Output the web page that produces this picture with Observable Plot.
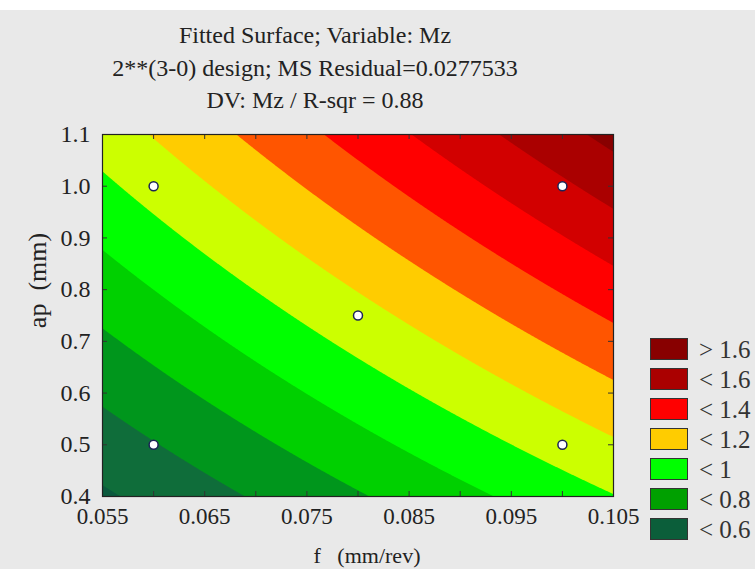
<!DOCTYPE html>
<html><head><meta charset="utf-8">
<script src="https://cdn.jsdelivr.net/npm/d3@7"></script>
<script src="https://cdn.jsdelivr.net/npm/@observablehq/plot@0.6"></script>
<style>
html,body{margin:0;padding:0;background:#e9e9e9;}
#wrap{position:relative;width:755px;height:569px;background:#e9e9e9;overflow:hidden;font-family:"Liberation Serif","Times New Roman",serif;}
#topstrip{position:absolute;left:0;top:0;width:755px;height:10px;background:#fff;}
#chart{position:absolute;left:0;top:0;}
#legend{position:absolute;left:650px;top:334px;}
.row{display:flex;align-items:center;height:30px;}
.sw{width:38px;height:22px;border:1px solid #333;box-sizing:border-box;flex:none;}
.lb{margin-left:11px;font-size:25px;line-height:25px;color:#333;white-space:pre;}
</style></head><body>
<div id="wrap"><div id="topstrip"></div><div id="chart"></div><div id="legend"></div></div>
<script>
// Fitted surface values of Mz at the design corners
const fDesign = [0.06, 0.10];          // f (mm/rev) low / high
const apDesign = [0.5, 1.0];           // ap (mm) low / high
const mzLowAp = [0.695, 1.043];        // Mz at ap = 0.5 for f low / high
const mzHighAp = [1.037, 1.484];       // Mz at ap = 1.0 for f low / high

// Experimental points
const fPoints = [0.06, 0.06, 0.08, 0.10, 0.10];
const apPoints = [0.5, 1.0, 0.75, 0.5, 1.0];

// Contour bands
const bandThresholds = [0.5, 0.6, 0.7, 0.8, 0.9, 1.0, 1.1, 1.2, 1.3, 1.4, 1.5, 1.6];
const bandColors = ["#0b5a3e", "#0f6d3a", "#00961c", "#00d000", "#00ff00", "#ccff00",
                    "#ffcc00", "#ff5500", "#ff0000", "#d20000", "#aa0000", "#880000"];

// Legend
const legendLabels = ["> 1.6", "< 1.6", "< 1.4", "< 1.2", "< 1", "< 0.8", "< 0.6"];
const legendColors = ["#880000", "#aa0000", "#ff0000", "#ffcc00", "#00ff00", "#00a000", "#0b5e3a"];

// Axes
const fTicks = [0.055, 0.06, 0.065, 0.07, 0.075, 0.08, 0.085, 0.09, 0.095, 0.1, 0.105];
const fTickLabels = [0.055, 0.065, 0.075, 0.085, 0.095, 0.105];
const apTicks = [0.4, 0.5, 0.6, 0.7, 0.8, 0.9, 1.0, 1.1];
const titleLines = ["Fitted Surface; Variable: Mz", "2**(3-0) design; MS Residual=0.0277533", "DV: Mz / R-sqr = 0.88"];
const xTitle = "f\u00a0\u00a0\u00a0(mm/rev)";
const yTitle = "ap\u00a0\u00a0(mm)";

function surface(f, ap) {
  const u = (f - fDesign[0]) / (fDesign[1] - fDesign[0]);
  const w = (ap - apDesign[0]) / (apDesign[1] - apDesign[0]);
  return mzLowAp[0] * (1 - u) * (1 - w) + mzLowAp[1] * u * (1 - w)
       + mzHighAp[0] * (1 - u) * w + mzHighAp[1] * u * w;
}

const W = 755, H = 569, mL = 102, mR = 142, mT = 134, mB = 73;
const pw = W - mL - mR, ph = H - mT - mB;
const idx = fPoints.map((_, i) => i);

const chart = Plot.plot({
  width: W, height: H,
  marginLeft: mL, marginRight: mR, marginTop: mT, marginBottom: mB,
  style: {fontFamily: "'Liberation Serif','Times New Roman',serif", fontSize: "23px", color: "#222", background: "transparent", overflow: "visible"},
  x: {domain: [0.055, 0.105]},
  y: {domain: [0.4, 1.1]},
  color: {type: "threshold", domain: bandThresholds.slice(1), range: bandColors},
  marks: [
    Plot.contour({
      x1: 0.055, x2: 0.105, y1: 0.4, y2: 1.1,
      fill: (f, ap) => surface(f, ap),
      thresholds: bandThresholds,
      stroke: "none",
      pixelSize: 1
    }),
    Plot.tickX(fTicks, {x: d => d, insetTop: ph - 5, stroke: "#333"}),
    Plot.tickX(fTicks, {x: d => d, insetBottom: ph - 5, stroke: "#333"}),
    Plot.tickY(apTicks, {y: d => d, insetLeft: pw - 5, stroke: "#333"}),
    Plot.tickY(apTicks, {y: d => d, insetRight: pw - 5, stroke: "#333"}),
    Plot.frame({stroke: "#222", strokeWidth: 1.2}),
    Plot.dot(idx, {x: i => fPoints[i], y: i => apPoints[i], r: 4.5, fill: "white", stroke: "#1c2456", strokeWidth: 1.5}),
    Plot.axisX({ticks: fTickLabels, tickSize: 0, tickPadding: 11, tickFormat: d3.format(".3f"), label: null, fill: "#222", fontSize: 23}),
    Plot.axisY({ticks: apTicks, tickSize: 0, tickPadding: 12, tickFormat: d3.format(".1f"), label: null, fill: "#222", fontSize: 24}),
    Plot.text([titleLines.join("\n")], {frameAnchor: "top", textAnchor: "middle", lineAnchor: "middle", dx: -43, dy: -69, lineHeight: 1.354, fill: "#222", fontSize: 24}),
    Plot.text([xTitle], {frameAnchor: "bottom", textAnchor: "middle", lineAnchor: "middle", dx: 9, dy: 59, fill: "#222", fontSize: 22}),
    Plot.text([yTitle], {frameAnchor: "left", textAnchor: "middle", lineAnchor: "middle", rotate: -90, dx: -65, dy: -35, fill: "#222", fontSize: 26})
  ]
});
document.getElementById("chart").appendChild(chart);

const legend = document.getElementById("legend");
legendLabels.forEach((lab, i) => {
  const row = document.createElement("div");
  row.className = "row";
  const sw = document.createElement("div");
  sw.className = "sw";
  sw.style.background = legendColors[i];
  const lb = document.createElement("span");
  lb.className = "lb";
  lb.textContent = lab;
  row.appendChild(sw); row.appendChild(lb);
  legend.appendChild(row);
});
</script>
</body></html>
